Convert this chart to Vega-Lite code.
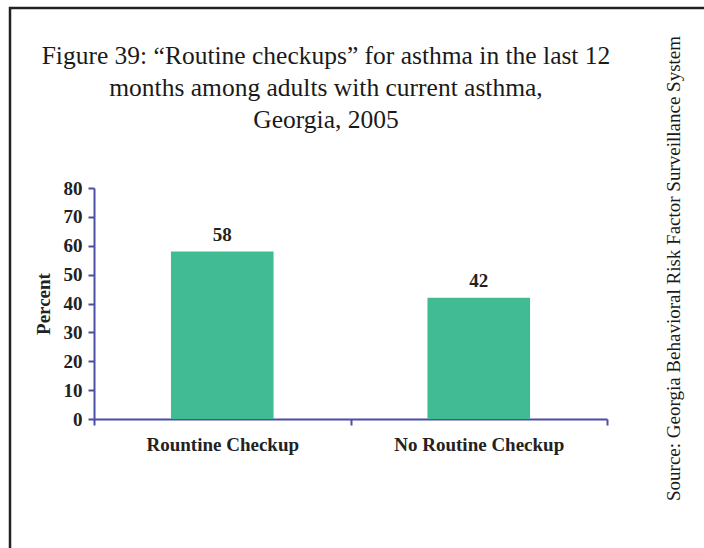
{
  "$schema": "https://vega.github.io/schema/vega-lite/v6.json",
  "autosize": {"type": "none"},
  "width": 700,
  "height": 545,
  "padding": {"left": 10, "top": 8, "right": 0, "bottom": 0},
  "background": "white",
  "title": {
    "text": ["Figure 39: \u201cRoutine checkups\u201d for asthma in the last 12", "months among adults with current asthma,", "Georgia, 2005"],
    "font": "Liberation Serif",
    "fontSize": 25.5,
    "fontWeight": "normal",
    "color": "#1a1a1a",
    "anchor": "middle",
    "lineHeight": 32,
    "dx": -34,
    "offset": -125
  },
  "data": {"values": [
    {"category": "Rountine Checkup", "percent": 58},
    {"category": "No Routine Checkup", "percent": 42}
  ]},
  "config": {
    "view": {"stroke": "#222222", "strokeWidth": 2.5},
    "axis": {
      "domainColor": "#4a4fa3",
      "tickColor": "#4a4fa3",
      "domainWidth": 2,
      "tickWidth": 2,
      "tickSize": 6,
      "labelFont": "Liberation Serif",
      "labelFontWeight": "bold",
      "labelFontSize": 19,
      "labelColor": "#222222",
      "titleFont": "Liberation Serif",
      "titleFontWeight": "bold",
      "titleFontSize": 19,
      "titleColor": "#222222",
      "grid": false
    }
  },
  "resolve": {"axis": {"y": "independent"}},
  "layer": [
    {
      "mark": {"type": "bar", "color": "#40bb93", "width": {"band": 0.4}},
      "encoding": {
        "x": {
          "field": "category", "type": "nominal", "sort": null,
          "scale": {"paddingInner": 0, "paddingOuter": 0, "range": [84, 597]},
          "axis": {"title": null, "labelAngle": 0, "tickBand": "extent", "labelPadding": 10, "offset": -134}
        },
        "y": {
          "field": "percent", "type": "quantitative",
          "scale": {"domain": [0, 80], "range": [411, 180]},
          "axis": {"title": "Percent", "values": [0,10,20,30,40,50,60,70,80], "labelPadding": 6, "titlePadding": 10, "offset": -84}
        }
      }
    },
    {
      "mark": {"type": "text", "font": "Liberation Serif", "fontWeight": "bold", "fontSize": 19, "color": "#222222", "baseline": "bottom", "dy": -7},
      "encoding": {
        "x": {"field": "category", "type": "nominal", "sort": null},
        "y": {
          "field": "percent", "type": "quantitative",
          "axis": {
            "orient": "right", "domain": false, "ticks": false, "labels": false,
            "title": "Source: Georgia Behavioral Risk Factor Surveillance System",
            "titleFont": "Liberation Serif", "titleFontWeight": "normal", "titleFontSize": 19,
            "titleColor": "#1a1a1a", "titleAngle": 270, "titleAlign": "center", "titleBaseline": "middle",
            "titleX": -37, "titleY": 260
          }
        },
        "text": {"field": "percent", "type": "quantitative"}
      }
    }
  ]
}
